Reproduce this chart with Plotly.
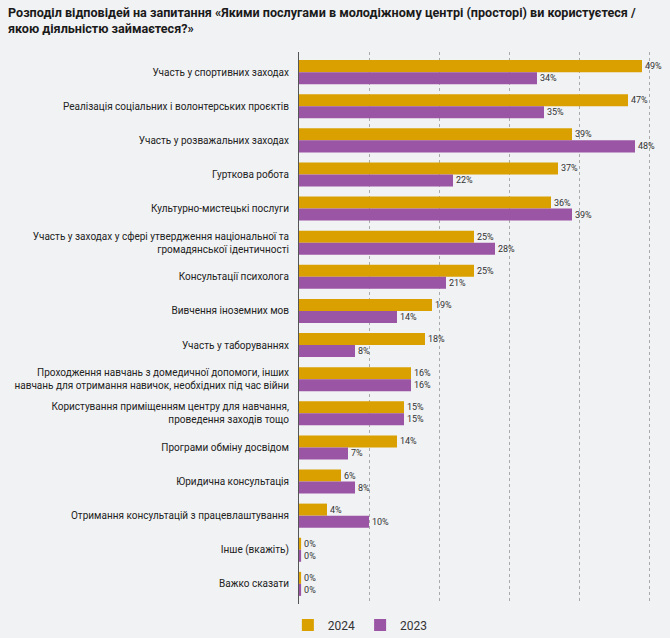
import plotly.graph_objects as go

categories = [
    "Участь у спортивних заходах",
    "Реалізація соціальних і волонтерських проєктів",
    "Участь у розважальних заходах",
    "Гурткова робота",
    "Культурно-мистецькі послуги",
    "Участь у заходах у сфері утвердження національної та<br>громадянської ідентичності",
    "Консультації психолога",
    "Вивчення іноземних мов",
    "Участь у таборуваннях",
    "Проходження навчань з домедичної допомоги, інших<br>навчань для отримання навичок, необхідних під час війни",
    "Користування приміщенням центру для навчання,<br>проведення заходів тощо",
    "Програми обміну досвідом",
    "Юридична консультація",
    "Отримання консультацій з працевлаштування",
    "Інше (вкажіть)",
    "Важко сказати",
]
values_2024 = [49, 47, 39, 37, 36, 25, 25, 19, 18, 16, 15, 14, 6, 4, 0.3, 0.3]
values_2023 = [34, 35, 48, 22, 39, 28, 21, 14, 8, 16, 15, 7, 8, 10, 0.3, 0.3]
series_names = ["2024", "2023"]
colors = ["#D9A000", "#9B55A5"]
title_text = ("<b>Розподіл відповідей на запитання «Якими послугами в молодіжному центрі (просторі) ви користуєтеся /"
              "<br>якою діяльністю займаєтеся?»</b>")

FONT = "Roboto"

fig = go.Figure()
for name, vals, col in zip(series_names, [values_2024, values_2023], colors):
    fig.add_trace(go.Bar(
        y=categories, x=vals, orientation="h", name=name,
        marker=dict(color=col, line=dict(width=0)),
        text=[f"{round(v)}%" for v in vals], textposition="outside",
        textfont=dict(size=9, color="#333333", family=FONT),
        cliponaxis=False,
    ))

L, T, B, H = 299, 52, 34, 638
plot_h = H - T - B
fig.add_annotation(
    text=title_text, xref="paper", yref="paper",
    x=(6 - L) / 371, y=(H - B - 3) / plot_h, xanchor="left", yanchor="top",
    align="left", showarrow=False,
    font=dict(family=FONT, size=12.6, color="#1a1a1a"),
)

n = len(categories)
pad = 0.59
fig.update_layout(
    width=670, height=638,
    margin=dict(l=L, r=0, t=T, b=B, autoexpand=False),
    paper_bgcolor="#F1F2F4", plot_bgcolor="#F1F2F4",
    barmode="group", bargap=0.295, bargroupgap=0,
    font=dict(family=FONT, size=10, color="#222222"),
    legend=dict(
        orientation="h", x=-0.03, xanchor="left", y=-0.012, yanchor="top",
        font=dict(size=12, color="#333333", family=FONT), traceorder="normal",
        itemwidth=30,
    ),
    showlegend=True,
)
fig.update_xaxes(
    range=[0, 53], dtick=10, showgrid=True, gridcolor="#AAAAAA", griddash="dot",
    gridwidth=1, showticklabels=False, zeroline=False, fixedrange=True,
)
fig.update_yaxes(
    range=[n - 1 + pad, -pad], showline=True, linecolor="#555555", linewidth=1,
    ticks="", ticklabelstandoff=7, automargin=False,
    tickfont=dict(size=10, color="#222222", family=FONT),
)

fig.write_html("out.html")
